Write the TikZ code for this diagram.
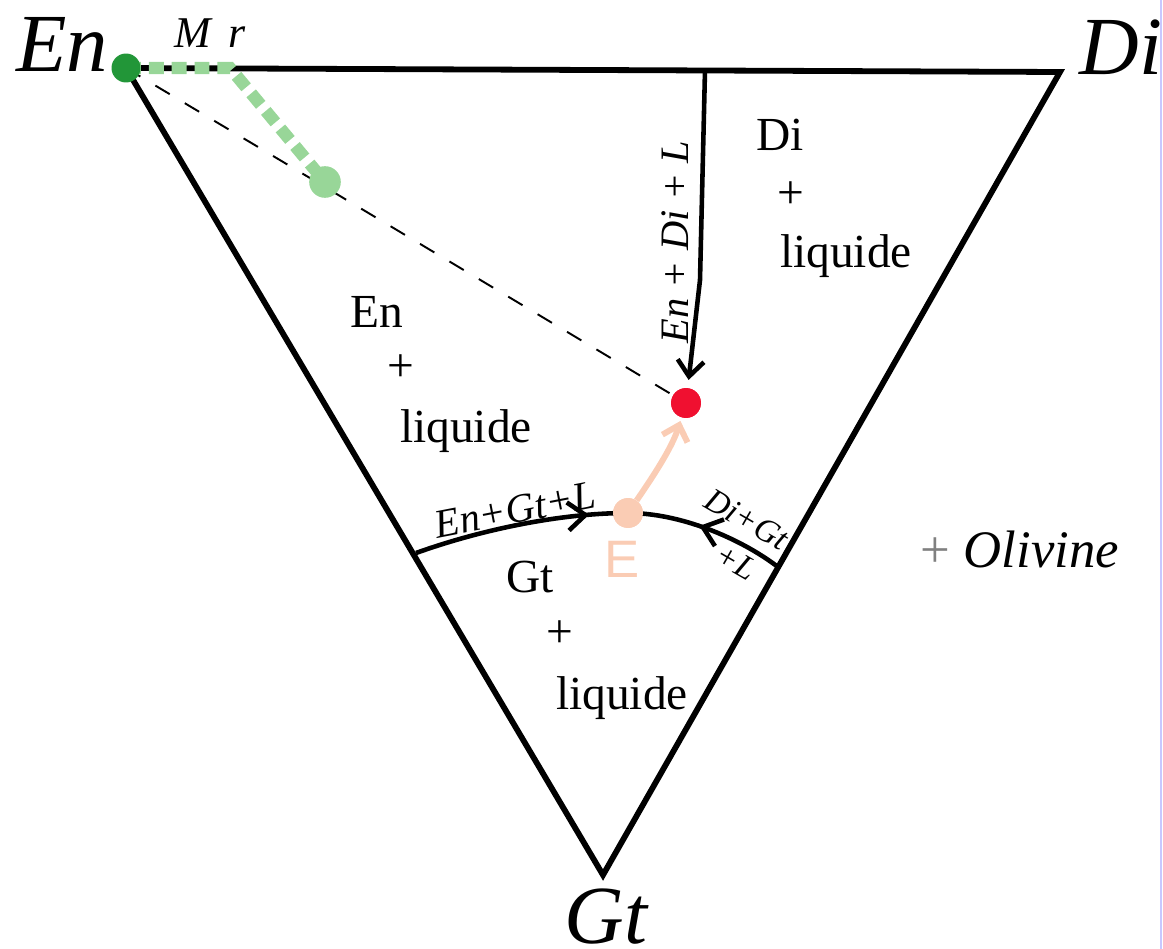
\documentclass[tikz,border=0pt]{standalone}
\usepackage{fontspec}
\setmainfont{Liberation Serif}
\setsansfont{Liberation Sans}
\usetikzlibrary{arrows.meta,decorations.markings}
\definecolor{dkgreen}{HTML}{229638}
\definecolor{ltgreen}{HTML}{98D698}
\definecolor{eutred}{HTML}{F01030}
\definecolor{peach}{HTML}{FACCB4}
\definecolor{lavend}{HTML}{C8C8FF}
\newcommand\fsz[1]{\fontsize{#1}{#1}\selectfont}
\tikzset{
  edge/.style={line width=3.3pt, line join=miter},
  bound/.style={line width=2.6pt},
  lbl/.style={inner sep=0pt, anchor=base},
  region/.style={lbl, font=\fsz{27}},
  corner/.style={lbl, font=\fsz{47}\itshape},
  dot/.style={circle, inner sep=0pt, minimum size=#1},
  midbarb/.tip={Straight Barb[length=10pt,width=16pt,line width=2.6pt]},
}
\begin{document}
\begin{tikzpicture}[x=0.02cm,y=-0.02cm]
\useasboundingbox (0,0) rectangle (1163,949);
\draw[lavend, line width=1pt] (1161,0) -- (1161,949);

% vertices
\coordinate (En) at (126,68);
\coordinate (Di) at (1060,72);
\coordinate (Gt) at (603,875);
\coordinate (Top) at (705,70);
\coordinate (L1) at (416,553);
\coordinate (R1) at (778,567);
\coordinate (Mg) at (230,68);

% triangle
\draw[edge] (Gt) -- (En) -- (Di) -- cycle;

% thin dashed tie line
\draw[line width=1.1pt, dash pattern=on 9.5pt off 10pt] (En) -- (686,403);

% green dashed path
\draw[ltgreen, line width=7pt, dash pattern=on 8.5pt off 4.5pt] (En) -- (Mg) -- (325,182);

% points
\node[dot=17pt, fill=eutred] (Eut) at (686,403) {};
\node[dot=17pt, fill=peach] (E) at (628,513) {};

% cotectic En+Di+L
\draw[bound, -{Straight Barb[length=9pt,width=15pt,line width=2.6pt]}, shorten >=4.5pt] (Top) -- (700,280) -- (Eut);

% cotectic curve En+Gt+L and Di+Gt+L
\draw[bound, postaction={decorate}, decoration={markings, mark=at position 0.82 with {\arrow{midbarb}}}]
  (L1) .. controls (480,530) and (560,513) .. (E.center);
\draw[bound, postaction={decorate}, decoration={markings, mark=at position 0.55 with {\arrow{midbarb}}}]
  (R1) .. controls (740,538) and (680,513) .. (E.center);

% peach path from E to eutectic
\draw[peach, line width=3.4pt, -{Straight Barb[length=8pt,width=15pt,line width=3.4pt]}, shorten >=2pt]
  (E) .. controls (652,478) and (672,448) .. (Eut);

% dots on top
\node[dot=17pt, fill=peach] at (E) {};
\node[dot=17pt, fill=eutred] at (Eut) {};
\node[dot=18pt, fill=ltgreen] (Mp) at (325,182) {};
\node[dot=16.5pt, fill=dkgreen] (Enp) at (En) {};

% corner labels
\node[corner] (tEn) at (62,72) {En};
\node[corner] (tDi) at (1121,75) {Di};
\node[corner] (tGt) at (606,943) {Gt};

% small labels
\node[lbl, font=\fsz{25}\itshape] (tMr) at (210,48) {M\, r};
\node[lbl, font=\fsz{30}\sffamily, text=peach] (tE) at (622,577) {E};

% region labels
\node[region] (r1a) at (377,328) {En};
\node[region] (r1b) at (401,382) {+};
\node[region] (r1c) at (466,442) {liquide};
\node[region] (r2a) at (780,151) {Di};
\node[region] (r2b) at (791,209) {+};
\node[region] (r2c) at (846,268) {liquide};
\node[region] (r3a) at (530,592) {Gt};
\node[region] (r3b) at (560,647) {+};
\node[region] (r3c) at (622,709) {liquide};
\node[lbl, font=\fsz{30}] (tOl) at (1020,567) {{\color{gray}+} \textit{Olivine}};

% boundary labels
\node[inner sep=0pt, rotate=90, font=\fsz{23}\itshape] (bEDL) at (675,242) {En + Di + L};
\node[inner sep=0pt, rotate=11, font=\fsz{23}\itshape] (bEGL) at (515,510) {En+Gt+L};
\node[inner sep=0pt, rotate=-30, font=\fsz{19}\itshape] (bDG) at (747,519) {Di+Gt};
\node[inner sep=0pt, rotate=-30, font=\fsz{19}\itshape] (bL) at (736,562) {+L};
\end{tikzpicture}
\end{document}
